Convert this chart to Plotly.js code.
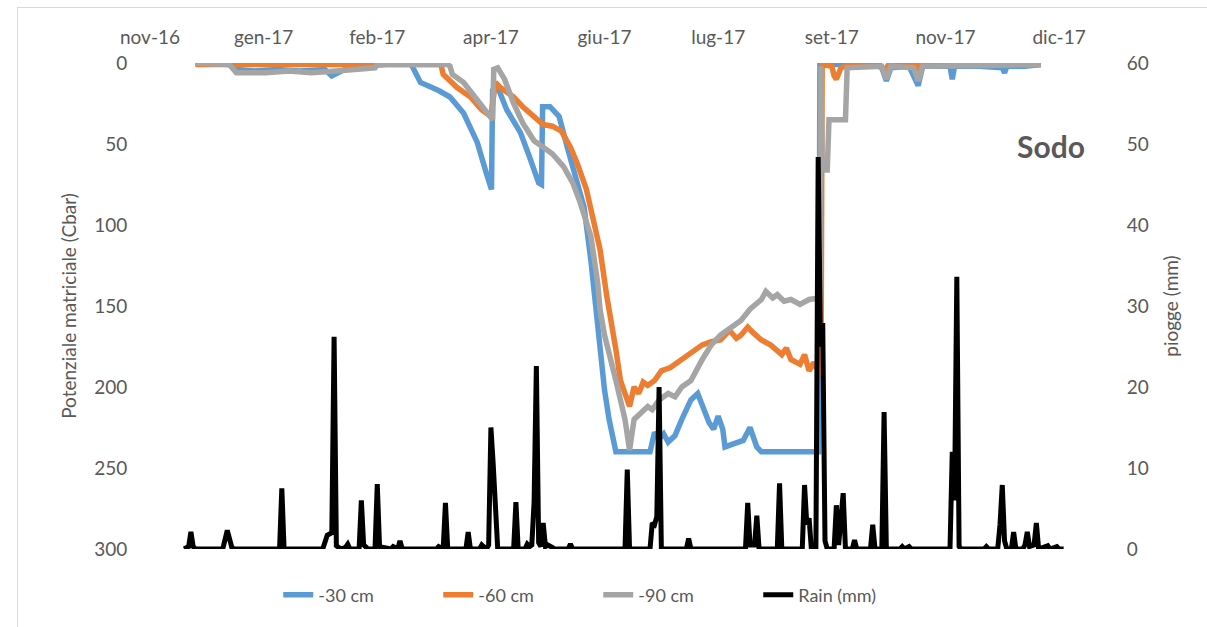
<!DOCTYPE html>
<html>
<head>
<meta charset="utf-8">
<script src="https://cdn.plot.ly/plotly-3.0.1.min.js"></script>
<style>
  html, body { margin: 0; padding: 0; background: #fff; }
  #wrap { position: relative; width: 1207px; height: 627px; overflow: hidden; }
  #chart { position: absolute; left: 0; top: 0; width: 1207px; height: 627px; }
  #frame { position: absolute; left: 17px; top: 7px; width: 1300px; height: 700px; border: 1px solid #d9d9d9; pointer-events: none; }
</style>
</head>
<body>
<div id="wrap"><div id="chart"></div><div id="frame"></div></div>
<script>
// ---- axis tick labels (x axis, on top) ----
const tickDates = ['2016-11-20','2017-01-09','2017-02-28','2017-04-19','2017-06-08','2017-07-28','2017-09-16','2017-11-05','2017-12-25'];
const tickLabels = ['nov-16','gen-17','feb-17','apr-17','giu-17','lug-17','set-17','nov-17','dic-17'];

// ---- series names ----
const seriesNames = ['-30 cm','-60 cm','-90 cm','Rain (mm)'];

// ---- -30 cm (Cbar) ----
const d30Dates = ['2016-12-10','2016-12-25','2016-12-28','2017-01-05','2017-01-15','2017-01-25','2017-02-05','2017-02-08','2017-02-15','2017-02-25','2017-02-28','2017-03-10','2017-03-15','2017-03-19','2017-03-27','2017-04-01','2017-04-07','2017-04-13','2017-04-17','2017-04-19 06:00','2017-04-19 18:00','2017-04-22','2017-04-26','2017-05-02','2017-05-06','2017-05-10','2017-05-11 06:00','2017-05-11 18:00','2017-05-15','2017-05-19','2017-05-23','2017-05-27','2017-05-30','2017-06-02','2017-06-05','2017-06-08','2017-06-10','2017-06-12','2017-06-13','2017-06-28','2017-06-30','2017-07-02','2017-07-04','2017-07-06','2017-07-09','2017-07-12','2017-07-14','2017-07-16','2017-07-19','2017-07-21','2017-07-24','2017-07-26','2017-07-28','2017-07-30','2017-07-31','2017-08-04','2017-08-08','2017-08-11','2017-08-14','2017-08-16','2017-09-10 06:00','2017-09-10 18:00','2017-09-15','2017-10-05','2017-10-08','2017-10-10','2017-10-12','2017-10-20','2017-10-24','2017-10-26','2017-11-07','2017-11-08','2017-11-09','2017-11-20','2017-11-30','2017-12-01','2017-12-02','2017-12-10','2017-12-17'];
const d30Vals  = [0,1,4,5,4,5,4,8,3,2,1,0,1,12,17,21,31,49,68,78,17,15,29,43,58,74,75,27,27,33,54,74,89,122,165,202,220,233,240,240,228,232,229,234,230,220,214,208,204,212,222,226,218,226,237,235,233,225,237,240,240,0,1,1,3,11,3,2,14,2,2,10,2,2,3,6,2,2,1];

// ---- -60 cm (Cbar) ----
const d60Dates = ['2016-12-10','2017-03-28','2017-03-29','2017-03-31','2017-04-04','2017-04-10','2017-04-15','2017-04-19','2017-04-21','2017-04-23','2017-04-29','2017-05-03','2017-05-08','2017-05-12','2017-05-16','2017-05-20','2017-05-24','2017-05-27','2017-05-31','2017-06-03','2017-06-06','2017-06-09','2017-06-11','2017-06-13','2017-06-15','2017-06-17','2017-06-19','2017-06-21','2017-06-23','2017-06-25','2017-06-27','2017-06-30','2017-07-03','2017-07-07','2017-07-12','2017-07-16','2017-07-21','2017-07-25','2017-07-29','2017-08-02','2017-08-05','2017-08-07','2017-08-10','2017-08-12','2017-08-16','2017-08-20','2017-08-25','2017-08-27','2017-08-29','2017-09-02','2017-09-04','2017-09-06','2017-09-08','2017-09-11 06:00','2017-09-11 18:00','2017-09-16','2017-09-17','2017-09-18','2017-09-20','2017-09-24','2017-10-07','2017-10-09','2017-10-11','2017-10-23','2017-10-24','2017-10-25','2017-12-17'];
const d60Vals  = [1,1,7,10,15,21,29,33,12,15,21,27,33,38,39,42,52,62,78,95,115,144,159,177,196,205,212,200,204,197,199,196,190,188,183,178,174,172,171,165,170,168,163,166,171,174,180,176,183,186,180,190,185,193,1,2,8,10,3,1,1,5,1,1,3,1,1];

// ---- -90 cm (Cbar) ----
const d90Dates = ['2016-12-10','2016-12-25','2016-12-28','2017-01-10','2017-01-20','2017-01-30','2017-02-10','2017-02-20','2017-02-27','2017-02-28','2017-03-31','2017-04-01','2017-04-02','2017-04-07','2017-04-11','2017-04-15','2017-04-19 18:00','2017-04-20 06:00','2017-04-22','2017-04-25','2017-04-29','2017-05-03','2017-05-08','2017-05-12','2017-05-16','2017-05-21','2017-05-25','2017-05-28','2017-06-02','2017-06-05','2017-06-06','2017-06-08','2017-06-11','2017-06-13','2017-06-15','2017-06-17','2017-06-19','2017-06-21','2017-06-24','2017-06-27','2017-06-29','2017-07-02','2017-07-06','2017-07-09','2017-07-12','2017-07-16','2017-07-21','2017-07-25','2017-07-29','2017-08-03','2017-08-07','2017-08-11','2017-08-16','2017-08-18','2017-08-21','2017-08-23','2017-08-26','2017-08-29','2017-09-02','2017-09-06','2017-09-10 18:00','2017-09-11 06:00','2017-09-11 18:00','2017-09-14','2017-09-14 18:00','2017-09-22','2017-09-22 18:00','2017-10-08','2017-10-10','2017-10-12','2017-10-22','2017-10-24','2017-10-26','2017-12-17'];
const d90Vals  = [0,1,6,6,5,6,5,4,3,1,1,2,7,12,19,27,35,4,3,10,25,37,48,52,56,64,74,85,107,136,152,168,183,196,208,220,239,220,216,212,214,208,204,206,200,196,183,174,168,163,159,152,146,141,145,143,147,146,149,146,145,2,66,66,35,35,3,2,10,2,3,11,2,1];

// ---- Rain (mm) ----
const rainDates = ['2016-12-05','2016-12-07','2016-12-08','2016-12-09','2016-12-10','2016-12-22','2016-12-24','2016-12-26','2016-12-27','2017-01-16','2017-01-17','2017-01-18','2017-02-04','2017-02-06','2017-02-08','2017-02-09','2017-02-10','2017-02-12','2017-02-14','2017-02-15','2017-02-16','2017-02-20','2017-02-21','2017-02-22','2017-02-24','2017-02-27','2017-02-28','2017-03-01','2017-03-06','2017-03-07','2017-03-09','2017-03-10','2017-03-11','2017-03-26','2017-03-27','2017-03-29','2017-03-30','2017-03-31','2017-04-08','2017-04-09','2017-04-10','2017-04-14','2017-04-15','2017-04-17','2017-04-18','2017-04-19','2017-04-20','2017-04-21','2017-04-22','2017-04-29','2017-04-30','2017-05-01','2017-05-04','2017-05-05','2017-05-06','2017-05-07','2017-05-08','2017-05-09','2017-05-10','2017-05-11','2017-05-12','2017-05-13','2017-05-14','2017-05-16','2017-05-17','2017-05-23','2017-05-24','2017-05-25','2017-06-17','2017-06-18','2017-06-19','2017-06-28','2017-06-29','2017-06-30','2017-07-01','2017-07-02','2017-07-03','2017-07-14','2017-07-15','2017-07-16','2017-08-09','2017-08-10','2017-08-11','2017-08-13','2017-08-14','2017-08-15','2017-08-23','2017-08-24','2017-08-25','2017-09-03','2017-09-04','2017-09-05','2017-09-06','2017-09-07','2017-09-09','2017-09-10','2017-09-11','2017-09-12','2017-09-13','2017-09-14','2017-09-17','2017-09-18','2017-09-19','2017-09-21','2017-09-22','2017-09-25','2017-09-26','2017-09-27','2017-10-03','2017-10-04','2017-10-05','2017-10-08','2017-10-09','2017-10-10','2017-10-16','2017-10-17','2017-10-18','2017-10-20','2017-10-21','2017-11-07','2017-11-08','2017-11-09','2017-11-10','2017-11-11','2017-11-12','2017-11-22','2017-11-23','2017-11-24','2017-11-28','2017-11-29','2017-11-30','2017-12-01','2017-12-02','2017-12-04','2017-12-05','2017-12-06','2017-12-09','2017-12-10','2017-12-11','2017-12-12','2017-12-14','2017-12-15','2017-12-16','2017-12-20','2017-12-21','2017-12-24','2017-12-25','2017-12-27'];
const rainMm    = [0,0.3,2.1,0.3,0,0,2.3,0.2,0,0,7.5,0,0,1.7,2.0,26.2,0.4,0,0.2,0.6,0,0,6.0,0.5,0,0,8.0,0.3,0,0.3,0,1.0,0,0,0.3,0,5.7,0,0,2.1,0,0,0.5,0,0.5,15,10.5,3.6,0,0,5.8,0,0,0.6,0.3,0.5,5.8,22.6,0.8,0.3,3.2,0.3,0.5,0.2,0,0,0.6,0,0,9.8,0,0,3.2,3.0,4.0,20,0,0,1.3,0,0,5.7,0.5,0.5,4.1,0,0,8.1,0,0,7.9,3.0,3.8,0,0,48.4,25,27.9,1,0,0,5.4,0.5,6.9,0,0,1.1,0,0,3.0,0,0,16.9,0,0,0.3,0,0.3,0,0,12,6,33.6,0.3,0,0,0.3,0,0,3,7.9,1,0,0,2.1,0,0,0.5,2.1,0.3,0.5,3.2,0,0.4,0,0.3,0,0];

const FONT = 'Lato, "Open Sans", sans-serif';
const GRAY = '#595959';

const traces = [
  {x: d30Dates, y: d30Vals, name: seriesNames[0], type: 'scatter', mode: 'lines', line: {color: '#5B9BD5', width: 5.5}, yaxis: 'y'},
  {x: d60Dates, y: d60Vals, name: seriesNames[1], type: 'scatter', mode: 'lines', line: {color: '#ED7D31', width: 5.5}, yaxis: 'y'},
  {x: d90Dates, y: d90Vals, name: seriesNames[2], type: 'scatter', mode: 'lines', line: {color: '#A5A5A5', width: 5.5}, yaxis: 'y'},
  {x: rainDates, y: rainMm, name: seriesNames[3], type: 'scatter', mode: 'lines', line: {color: '#000000', width: 5}, yaxis: 'y2'}
];

const layout = {
  width: 1207, height: 627,
  margin: {l: 150, r: 107, t: 63, b: 78, pad: 0},
  paper_bgcolor: '#ffffff', plot_bgcolor: '#ffffff',
  font: {family: FONT, color: GRAY},
  showlegend: true,
  legend: {orientation: 'h', x: 0.135, xanchor: 'left', y: -0.095, yanchor: 'middle',
           font: {family: FONT, size: 18, color: GRAY}, entrywidth: 115, entrywidthmode: 'pixels', itemwidth: 30},
  xaxis: {type: 'date', side: 'top', range: ['2016-11-20', '2018-01-12'],
          tickmode: 'array', tickvals: tickDates, ticktext: tickLabels,
          showgrid: false, zeroline: false, showline: false,
          ticks: 'outside', ticklen: 10, tickcolor: 'rgba(0,0,0,0)',
          tickfont: {family: FONT, size: 19, color: GRAY}},
  yaxis: {range: [300, 0], tickmode: 'array', tickvals: [0,50,100,150,200,250,300],
          showgrid: false, zeroline: false, showline: false,
          ticks: 'outside', ticklen: 18, tickcolor: 'rgba(0,0,0,0)',
          tickfont: {family: FONT, size: 19, color: GRAY},
          title: {text: 'Potenziale matriciale (Cbar)', font: {family: FONT, size: 19, color: GRAY}, standoff: 12}},
  yaxis2: {overlaying: 'y', side: 'right', range: [0, 60], tickmode: 'array', tickvals: [0,10,20,30,40,50,60],
           showgrid: false, zeroline: false, showline: false,
           ticks: 'outside', ticklen: 22, tickcolor: 'rgba(0,0,0,0)',
           tickfont: {family: FONT, size: 19, color: GRAY},
           title: {text: 'piogge (mm)', font: {family: FONT, size: 19, color: GRAY}, standoff: 16}},
  annotations: [{text: '<b>Sodo</b>', xref: 'paper', yref: 'paper', x: 0.9864, y: 0.829, xanchor: 'right', yanchor: 'middle',
                 showarrow: false, font: {family: FONT, size: 30, color: GRAY}}]
};

Plotly.newPlot('chart', traces, layout, {displayModeBar: false, staticPlot: true});
</script>
</body>
</html>
